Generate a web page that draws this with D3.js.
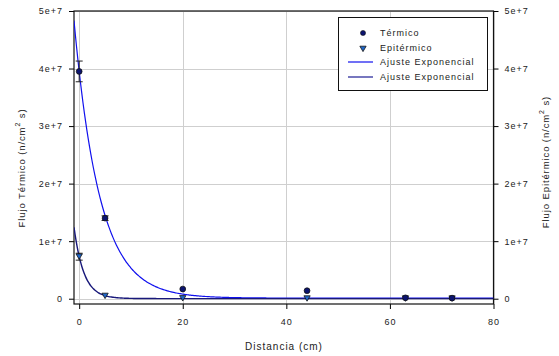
<!DOCTYPE html>
<html>
<head>
<meta charset="utf-8">
<script src="https://cdn.jsdelivr.net/npm/d3@7/dist/d3.min.js"></script>
<style>
  body { margin: 0; background: #fff; }
  text { font-family: "Liberation Sans", Arial, sans-serif; fill: #222; }
</style>
</head>
<body>
<div id="chart"></div>
<script>
const distance = [0, 5, 20, 44, 63, 72];
const thermal = [3.95e7, 1.40e7, 1.68e6, 1.39e6, 1.5e5, 1.0e5];
const thermalErr = [1.8e6, 4e5, 0, 0, 0, 0];
const epithermal = [7.3e6, 4.7e5, 5e4, 2e4, 1e4, 5e3];
const epithermalErr = [6e5, 0, 0, 0, 0, 0];
// exponential fit parameters: y0 + A * exp(-k x)
const fitThermal = [1e5, 3.94e7, 0.202];
const fitEpithermal = [2e4, 7.3e6, 0.53];
const xTicks = [0, 20, 40, 60, 80];
const yTicks = [0, 1e7, 2e7, 3e7, 4e7, 5e7];
const legendLabels = ["Térmico", "Epitérmico", "Ajuste Exponencial", "Ajuste Exponencial"];

const width = 559, height = 356;
const mLeft = 74, mRight = 493.5, mTop = 11, mBottom = 304;

const svg = d3.select("#chart").append("svg")
  .attr("width", width).attr("height", height);

const x = d3.scaleLinear().domain([-1, 80]).range([mLeft, mRight]);
const y = d3.scaleLinear().domain([-9.2e5, 5e7]).range([mBottom, mTop]);

const fmt = d => d === 0 ? "0" : (d / 1e7) + "e+7";

// grid
svg.append("g").selectAll("line").data(yTicks).enter().append("line")
  .attr("x1", mLeft).attr("x2", mRight)
  .attr("y1", d => Math.round(y(d)) + 0.5).attr("y2", d => Math.round(y(d)) + 0.5)
  .attr("stroke", "#cfcfcf");
svg.append("g").selectAll("line").data(xTicks).enter().append("line")
  .attr("y1", mTop).attr("y2", mBottom)
  .attr("x1", d => Math.round(x(d)) + 0.5).attr("x2", d => Math.round(x(d)) + 0.5)
  .attr("stroke", "#cfcfcf");

// axes
const tickText = g => g.selectAll("text")
  .style("font-size", "9px").style("letter-spacing", "1px").attr("fill", "#222");

svg.append("g").attr("transform", `translate(0,${mBottom})`)
  .call(d3.axisBottom(x).tickValues(xTicks).tickSize(5).tickPadding(10).tickFormat(d3.format("d")))
  .call(g => g.select(".domain").remove())
  .call(tickText);

svg.append("g").attr("transform", `translate(${mLeft},0)`)
  .call(d3.axisLeft(y).tickValues(yTicks).tickSize(5).tickPadding(6).tickFormat(fmt))
  .call(g => g.select(".domain").remove())
  .call(tickText);

svg.append("g").attr("transform", `translate(${mRight},0)`)
  .call(d3.axisRight(y).tickValues(yTicks).tickSize(5).tickPadding(6).tickFormat(fmt))
  .call(g => g.select(".domain").remove())
  .call(tickText);

// frame
svg.append("rect")
  .attr("x", mLeft).attr("y", mTop)
  .attr("width", mRight - mLeft).attr("height", mBottom - mTop)
  .attr("fill", "none").attr("stroke", "#111").attr("stroke-width", 1.2);

// fit curves
svg.append("clipPath").attr("id", "clip").append("rect")
  .attr("x", mLeft).attr("y", mTop).attr("width", mRight - mLeft).attr("height", mBottom - mTop);

const fitLine = p => d3.line()
  .x(d => x(d))
  .y(d => y(p[0] + p[1] * Math.exp(-p[2] * d)))
  .curve(d3.curveBasis);
const xs = d3.range(-1, 80.01, 0.25);

svg.append("path").datum(xs)
  .attr("clip-path", "url(#clip)")
  .attr("d", fitLine(fitThermal))
  .attr("fill", "none").attr("stroke", "#1010ee").attr("stroke-width", 1.2);
svg.append("path").datum(xs)
  .attr("clip-path", "url(#clip)")
  .attr("d", fitLine(fitEpithermal))
  .attr("fill", "none").attr("stroke", "#18187a").attr("stroke-width", 1.4);

// error bars
function errorBars(vals, errs) {
  const g = svg.append("g").attr("stroke", "#222").attr("stroke-width", 1);
  distance.forEach((d, i) => {
    if (!errs[i]) return;
    const cx = x(d), y1 = y(vals[i] + errs[i]), y2 = y(vals[i] - errs[i]);
    g.append("line").attr("x1", cx).attr("x2", cx).attr("y1", y1).attr("y2", y2);
    g.append("line").attr("x1", cx - 3.5).attr("x2", cx + 3.5).attr("y1", y1).attr("y2", y1);
    g.append("line").attr("x1", cx - 3.5).attr("x2", cx + 3.5).attr("y1", y2).attr("y2", y2);
  });
}
errorBars(thermal, thermalErr);
errorBars(epithermal, epithermalErr);

// points
const circ = d3.symbol().type(d3.symbolCircle).size(26);
const tri = d3.symbol().type(d3.symbolTriangle).size(17);

svg.append("g").selectAll("path").data(distance).enter().append("path")
  .attr("d", tri)
  .attr("transform", (d, i) => `translate(${x(d)},${y(epithermal[i]) - 1}) rotate(180)`)
  .attr("fill", "#1f66c8").attr("stroke", "#111").attr("stroke-width", 0.8);

svg.append("g").selectAll("path").data(distance).enter().append("path")
  .attr("d", circ)
  .attr("transform", (d, i) => `translate(${x(d)},${y(thermal[i])})`)
  .attr("fill", "#0b1470").attr("stroke", "#111").attr("stroke-width", 0.8);

// legend
const lg = svg.append("g").attr("transform", "translate(338,17)");
lg.append("rect").attr("x", 0.5).attr("y", 0.5).attr("width", 149).attr("height", 73)
  .attr("fill", "#fff").attr("stroke", "#111");
const rowY = [16, 31, 45, 60];
lg.append("path").attr("d", d3.symbol().type(d3.symbolCircle).size(20))
  .attr("transform", `translate(25,${rowY[0]})`)
  .attr("fill", "#0b1470").attr("stroke", "#111").attr("stroke-width", 0.6);
lg.append("path").attr("d", tri).attr("transform", `translate(25,${rowY[1]}) rotate(180)`)
  .attr("fill", "#1f66c8").attr("stroke", "#111").attr("stroke-width", 0.8);
lg.append("line").attr("x1", 10).attr("x2", 35).attr("y1", rowY[2]).attr("y2", rowY[2])
  .attr("stroke", "#1010ee").attr("stroke-width", 1.2);
lg.append("line").attr("x1", 10).attr("x2", 35).attr("y1", rowY[3]).attr("y2", rowY[3])
  .attr("stroke", "#5555b0").attr("stroke-width", 1.6);
lg.selectAll("text.lbl").data(legendLabels).enter().append("text")
  .attr("x", 42).attr("y", (d, i) => rowY[i] + 3)
  .style("font-size", "9px").style("letter-spacing", "1px")
  .text(d => d);

// axis titles
svg.append("text")
  .attr("x", 284).attr("y", 350).attr("text-anchor", "middle")
  .style("font-size", "10px").style("letter-spacing", "1px")
  .text("Distancia (cm)");

function yTitle(label, tx, cy) {
  const t = svg.append("text")
    .attr("transform", `translate(${tx},${cy}) rotate(-90)`)
    .attr("text-anchor", "middle")
    .style("font-size", "9.5px").style("letter-spacing", "0.9px");
  t.append("tspan").text(label + " (n/cm");
  t.append("tspan").attr("dy", -5).style("font-size", "7px").text("2");
  t.append("tspan").attr("dy", 5).text(" s)");
}
yTitle("Flujo Térmico", 25, 168);
yTitle("Flujo Epitérmico", 549, 162);
</script>
</body>
</html>
